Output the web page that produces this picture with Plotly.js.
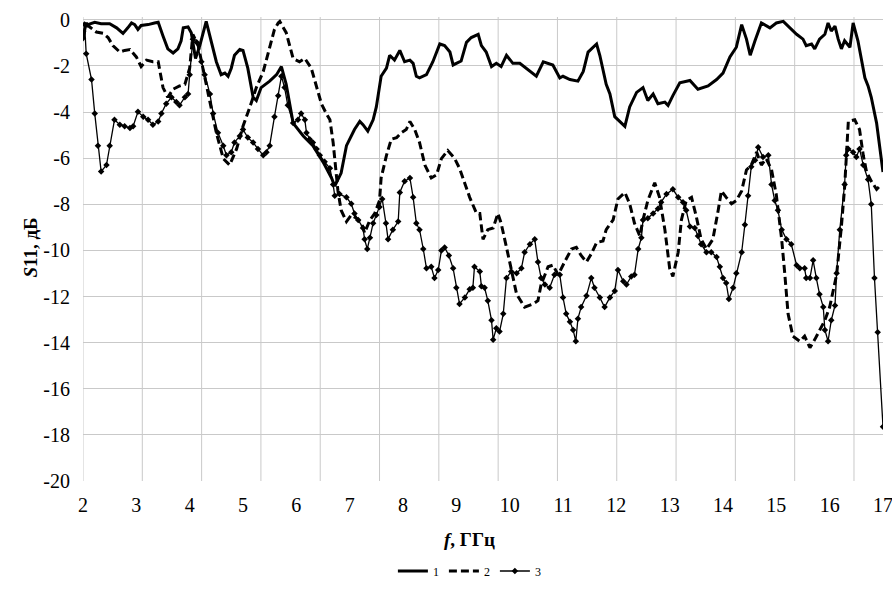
<!DOCTYPE html>
<html>
<head>
<meta charset="utf-8">
<script src="https://cdn.plot.ly/plotly-3.0.1.min.js"></script>
<style>html,body{margin:0;padding:0;background:#fff;}#chart{width:892px;height:595px;}</style>
</head>
<body>
<div id="chart"></div>
<script>
// Frequency, GHz and S11, dB for the three curves
var f1 = [2.00,2.06,2.09,2.22,2.34,2.50,2.63,2.75,2.84,2.91,
  2.97,3.03,3.09,3.22,3.34,3.41,3.50,3.59,3.69,3.78,
  3.84,3.88,3.97,4.03,4.11,4.19,4.31,4.41,4.50,4.59,
  4.66,4.72,4.78,4.84,4.94,5.00,5.09,5.19,5.25,5.34,
  5.50,5.63,5.72,5.81,5.88,5.94,6.13,6.31,6.50,6.66,
  6.72,6.84,6.94,7.00,7.09,7.19,7.25,7.34,7.44,7.50,
  7.56,7.59,7.69,7.75,7.84,7.94,8.03,8.13,8.19,8.25,
  8.31,8.44,8.56,8.69,8.78,8.88,8.94,9.09,9.19,9.28,
  9.41,9.47,9.56,9.66,9.75,9.84,9.94,10.06,10.19,10.31,
  10.50,10.63,10.81,10.94,11.00,11.13,11.28,11.38,11.47,11.63,
  11.69,11.81,11.88,11.97,12.06,12.16,12.25,12.38,12.50,12.59,
  12.69,12.78,12.91,12.97,13.06,13.19,13.38,13.53,13.72,13.88,
  14.00,14.13,14.25,14.35,14.44,14.51,14.60,14.72,14.88,15.00,
  15.13,15.25,15.38,15.50,15.56,15.66,15.72,15.81,15.91,15.97,
  16.03,16.10,16.16,16.22,16.28,16.38,16.44,16.53,16.66,16.72,
  16.78,16.88,17.00];
var s1 = [-0.77,-0.14,-0.21,-0.11,-0.17,-0.17,-0.35,-0.59,-0.35,-0.14,
  -0.21,-0.42,-0.25,-0.21,-0.14,-0.11,-0.70,-1.26,-1.44,-1.26,
  -0.91,-0.35,-0.31,-0.56,-1.68,-1.12,-0.07,-0.98,-1.82,-2.38,
  -2.31,-2.45,-2.10,-1.54,-1.29,-1.33,-2.10,-3.36,-3.50,-2.94,
  -2.66,-2.38,-2.03,-2.80,-3.64,-4.48,-5.04,-5.46,-6.16,-6.86,
  -7.21,-6.65,-5.46,-5.18,-4.76,-4.41,-4.55,-4.83,-4.34,-3.78,
  -2.80,-2.45,-2.10,-1.54,-1.75,-1.33,-1.82,-1.75,-1.89,-2.45,
  -2.52,-2.38,-1.82,-1.05,-1.12,-1.40,-1.96,-1.79,-0.98,-0.77,
  -0.63,-1.12,-1.40,-2.03,-1.89,-2.03,-1.54,-1.89,-1.89,-2.10,
  -2.45,-1.82,-1.96,-2.52,-2.45,-2.59,-2.66,-2.24,-1.40,-1.05,
  -1.54,-2.80,-3.22,-4.20,-4.41,-4.62,-3.78,-3.15,-2.94,-3.50,
  -3.22,-3.64,-3.57,-3.71,-3.29,-2.73,-2.63,-3.01,-2.87,-2.59,
  -2.31,-1.61,-1.19,-0.21,-0.84,-1.54,-0.91,-0.14,-0.35,-0.14,
  -0.07,-0.35,-0.63,-0.84,-1.12,-1.05,-1.26,-0.84,-0.63,-0.14,
  -0.49,-0.28,-0.84,-1.26,-0.91,-1.19,-0.14,-0.91,-2.52,-2.87,
  -3.36,-4.48,-6.60];

var f2 = [2.00,2.06,2.12,2.25,2.38,2.47,2.56,2.69,2.78,2.88,
  3.00,3.09,3.19,3.31,3.41,3.50,3.59,3.69,3.81,3.91,
  4.00,4.06,4.16,4.25,4.38,4.50,4.63,4.75,4.88,5.00,
  5.13,5.25,5.38,5.50,5.59,5.66,5.69,5.81,5.94,6.06,
  6.16,6.28,6.38,6.47,6.56,6.63,6.69,6.75,6.78,6.84,
  6.94,7.03,7.13,7.22,7.28,7.38,7.47,7.56,7.59,7.69,
  7.78,7.88,7.97,8.06,8.13,8.22,8.31,8.41,8.53,8.63,
  8.72,8.84,8.97,9.06,9.16,9.25,9.38,9.44,9.50,9.59,
  9.69,9.78,9.84,9.94,10.00,10.13,10.28,10.44,10.53,10.59,
  10.72,10.81,10.91,11.03,11.16,11.25,11.34,11.44,11.53,11.63,
  11.75,11.81,11.94,12.03,12.16,12.25,12.34,12.44,12.50,12.59,
  12.72,12.81,12.91,13.00,13.06,13.16,13.22,13.31,13.41,13.50,
  13.59,13.69,13.81,13.91,13.97,14.06,14.16,14.25,14.35,14.44,
  14.53,14.63,14.72,14.81,14.91,15.00,15.10,15.16,15.22,15.31,
  15.44,15.53,15.63,15.72,15.81,15.91,16.00,16.13,16.22,16.28,
  16.35,16.47,16.56,16.63,16.69,16.78,16.88,16.97];
var s2 = [-0.80,-0.25,-0.30,-0.53,-0.59,-0.77,-1.12,-1.40,-1.33,-1.29,
  -1.61,-2.03,-1.75,-1.82,-1.82,-2.94,-3.36,-3.01,-2.87,-2.80,
  -2.10,-0.63,-1.12,-2.10,-3.50,-4.90,-6.02,-6.30,-5.60,-4.62,
  -3.78,-2.94,-2.24,-1.26,-0.42,-0.14,-0.07,-0.56,-1.68,-1.82,
  -1.68,-2.10,-2.94,-3.64,-4.06,-4.34,-5.32,-6.58,-7.42,-8.26,
  -8.75,-8.47,-8.61,-8.82,-9.24,-8.68,-8.40,-7.84,-6.86,-5.88,
  -5.18,-5.11,-4.90,-4.76,-4.41,-4.76,-5.32,-6.30,-6.86,-6.72,
  -6.02,-5.67,-6.02,-6.44,-7.14,-7.70,-8.40,-8.40,-9.52,-9.10,
  -9.03,-8.40,-8.82,-9.94,-10.50,-11.90,-12.46,-12.32,-12.18,-11.48,
  -10.71,-10.64,-11.06,-10.50,-9.94,-9.87,-10.22,-10.50,-10.15,-9.66,
  -9.59,-9.10,-8.68,-7.77,-7.49,-7.98,-8.82,-9.38,-8.68,-7.84,
  -7.07,-7.70,-9.10,-10.78,-11.13,-10.08,-8.68,-7.84,-7.70,-8.54,
  -9.52,-9.94,-9.52,-8.26,-7.42,-7.70,-7.98,-7.84,-7.42,-6.51,
  -6.30,-5.74,-6.30,-6.02,-6.50,-7.60,-9.52,-11.06,-12.75,-13.72,
  -13.94,-13.72,-14.22,-13.87,-13.45,-13.03,-12.46,-11.06,-8.96,-7.28,
  -4.41,-4.34,-4.76,-5.88,-6.58,-7.00,-7.35,-7.14];

var f3 = [2.00,2.03,2.06,2.16,2.22,2.28,2.34,2.44,2.50,2.59,
  2.69,2.78,2.88,2.94,3.03,3.13,3.22,3.31,3.41,3.47,
  3.56,3.66,3.75,3.81,3.91,3.97,4.00,4.06,4.13,4.22,
  4.28,4.38,4.44,4.53,4.63,4.69,4.78,4.84,4.94,5.00,
  5.09,5.19,5.28,5.38,5.44,5.50,5.59,5.66,5.72,5.78,
  5.84,5.94,6.03,6.09,6.16,6.19,6.25,6.31,6.38,6.44,
  6.53,6.63,6.69,6.72,6.81,6.94,7.03,7.09,7.16,7.25,
  7.28,7.33,7.38,7.44,7.50,7.56,7.61,7.68,7.72,7.81,
  7.91,7.94,8.03,8.13,8.19,8.25,8.31,8.38,8.44,8.53,
  8.59,8.66,8.72,8.78,8.86,8.94,9.00,9.06,9.16,9.25,
  9.31,9.34,9.44,9.47,9.53,9.59,9.66,9.69,9.75,9.81,
  9.88,9.94,10.03,10.13,10.22,10.28,10.38,10.47,10.53,10.59,
  10.66,10.75,10.84,10.94,11.00,11.06,11.13,11.19,11.24,11.28,
  11.34,11.44,11.53,11.59,11.69,11.78,11.88,11.97,12.03,12.13,
  12.19,12.28,12.34,12.41,12.47,12.50,12.59,12.69,12.78,12.84,
  12.94,13.06,13.16,13.25,13.31,13.38,13.47,13.53,13.59,13.69,
  13.78,13.88,13.94,14.00,14.06,14.11,14.19,14.25,14.35,14.41,
  14.47,14.53,14.60,14.66,14.75,14.85,14.91,14.97,15.03,15.10,
  15.19,15.28,15.38,15.44,15.53,15.56,15.63,15.69,15.75,15.81,
  15.88,15.91,15.97,16.03,16.10,16.13,16.19,16.28,16.31,16.35,
  16.44,16.50,16.56,16.63,16.72,16.78,16.84,16.90,17.00];
var s3 = [-0.80,-0.20,-1.47,-2.59,-4.06,-5.46,-6.58,-6.30,-5.46,-4.34,
  -4.55,-4.62,-4.69,-4.62,-3.99,-4.20,-4.34,-4.55,-4.41,-4.06,
  -3.64,-3.36,-3.57,-3.71,-3.36,-3.22,-2.38,-0.84,-0.98,-1.82,
  -2.38,-3.22,-4.06,-4.90,-5.46,-5.88,-5.74,-5.32,-5.04,-4.76,
  -5.11,-5.32,-5.60,-5.88,-5.74,-5.46,-4.20,-3.29,-2.45,-2.94,
  -3.71,-4.48,-4.34,-4.06,-4.34,-4.90,-5.18,-5.32,-5.60,-5.88,
  -6.16,-6.44,-7.14,-7.63,-7.56,-7.70,-7.98,-8.40,-8.68,-9.03,
  -9.52,-9.94,-9.45,-8.82,-8.47,-8.12,-7.77,-8.82,-9.52,-9.10,
  -8.75,-7.49,-7.00,-6.86,-7.70,-8.82,-9.10,-9.94,-10.78,-10.71,
  -11.20,-10.85,-10.01,-9.87,-10.22,-10.78,-11.62,-12.32,-12.04,-11.69,
  -11.62,-10.71,-10.92,-11.55,-11.62,-12.18,-13.03,-13.87,-13.38,-13.52,
  -12.75,-11.20,-10.92,-10.99,-10.78,-10.08,-9.73,-9.52,-10.50,-11.20,
  -11.48,-11.62,-11.06,-11.06,-12.04,-12.75,-13.10,-13.45,-13.94,-12.96,
  -12.46,-11.97,-11.20,-11.62,-12.04,-12.46,-12.04,-11.76,-10.85,-11.34,
  -11.48,-11.13,-11.06,-9.94,-9.45,-8.68,-8.61,-8.40,-8.19,-7.91,
  -7.56,-7.35,-7.70,-7.91,-8.26,-8.96,-9.03,-9.38,-9.73,-10.08,
  -10.08,-10.29,-10.71,-11.20,-11.41,-12.11,-11.62,-10.99,-10.08,-8.89,
  -7.63,-6.37,-6.09,-5.53,-5.95,-5.88,-7.14,-7.84,-8.26,-9.10,
  -9.52,-9.73,-10.64,-10.78,-10.78,-11.20,-11.20,-10.43,-11.20,-11.90,
  -12.46,-13.45,-13.94,-13.03,-12.39,-10.99,-9.10,-7.14,-5.88,-5.60,
  -5.74,-5.95,-5.60,-6.30,-6.93,-8.00,-11.20,-13.55,-17.65];

var seriesNames = ['1', '2', '3'];
var xTicks = [2,3,4,5,6,7,8,9,10,11,12,13,14,15,16,17];
var yTicks = [0,-2,-4,-6,-8,-10,-12,-14,-16,-18,-20];
var xTitle = '<b><i>f</i>, ГГц</b>';
var yTitle = '<b><i>S</i>11, дБ</b>';

var FONT = '"Liberation Serif", "Times New Roman", serif';
var GRID = '#c9c9c9';

// vertical grid lines of the original sit on their own spacing (not on the labels)
var GRID_STEP = 1.112, GRID_START = 2;
var gridShapes = [];
for (var g = GRID_START; g <= 17; g += GRID_STEP) {
  gridShapes.push({type: 'line', xref: 'x', yref: 'paper', x0: g, x1: g, y0: 0, y1: 1,
    layer: 'below', line: {color: GRID, width: 1}});
}

var traces = [
  {x: f1, y: s1, name: seriesNames[0], type: 'scatter', mode: 'lines',
   line: {color: '#000', width: 3}},
  {x: f2, y: s2, name: seriesNames[1], type: 'scatter', mode: 'lines',
   line: {color: '#000', width: 3, dash: '8px,4px'}},
  {x: f3, y: s3, name: seriesNames[2], type: 'scatter', mode: 'lines+markers',
   line: {color: '#000', width: 1.3},
   marker: {color: '#000', size: 5, symbol: 'diamond'}}
];

var layout = {
  width: 892, height: 595,
  margin: {l: 83, r: 9, t: 17, b: 99},
  paper_bgcolor: '#fff', plot_bgcolor: '#fff',
  font: {family: FONT, color: '#000', size: 20},
  showlegend: true,
  xaxis: {
    range: [2, 17], tickmode: 'array', tickvals: xTicks, ticktext: xTicks.map(String),
    showgrid: false, zeroline: false, showline: false, ticks: '',
    tickfont: {family: FONT, size: 20, color: '#000'}, ticklabelstandoff: 10,
    ticklabeloverflow: 'allow'
  },
  yaxis: {
    range: [-20, 0.12], tickmode: 'array', tickvals: yTicks, ticktext: yTicks.map(String),
    showgrid: true, gridcolor: GRID, gridwidth: 1, zeroline: false, showline: false, ticks: '',
    tickfont: {family: FONT, size: 20, color: '#000'}, ticklabelstandoff: 12,
    ticklabeloverflow: 'allow'
  },
  shapes: gridShapes,
  legend: {
    orientation: 'h', x: 0.483, xanchor: 'center', y: -0.194, yanchor: 'middle',
    font: {family: FONT, size: 12, color: '#000'}, bgcolor: 'rgba(0,0,0,0)'
  },
  annotations: [
    {text: xTitle, xref: 'paper', yref: 'paper', x: 0.483, y: -0.127,
     xanchor: 'center', yanchor: 'middle', showarrow: false,
     font: {family: FONT, size: 19, color: '#000'}},
    {text: yTitle, xref: 'paper', yref: 'paper', x: -0.065, y: 0.503,
     xanchor: 'center', yanchor: 'middle', textangle: -90, showarrow: false,
     font: {family: FONT, size: 19, color: '#000'}}
  ]
};

Plotly.newPlot('chart', traces, layout, {staticPlot: true, displayModeBar: false});
</script>
</body>
</html>
